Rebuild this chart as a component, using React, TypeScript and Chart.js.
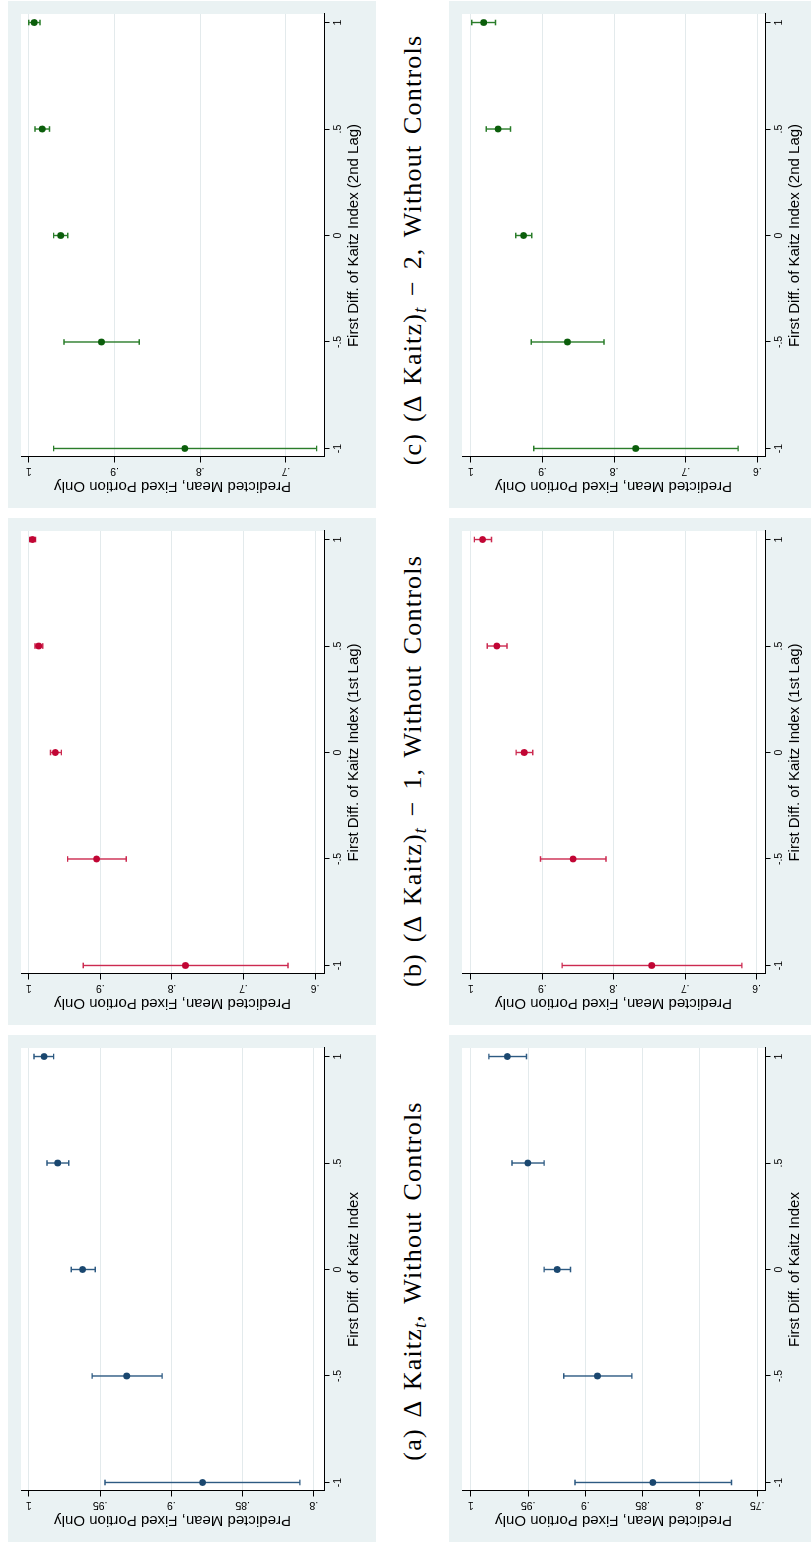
import React, { useEffect, useRef } from "react";
import { Chart, registerables } from "chart.js";

Chart.register(...registerables);

// ---------- data ----------
const kaitzSteps = [-1, -0.5, 0, 0.5, 1];
const kaitzTickLabels = ["-1", "-.5", "0", ".5", "1"];

// (c) second lag, left panel
const lag2LeftMean = [0.818, 0.9152, 0.9627, 0.9843, 0.9937];
const lag2LeftLow = [0.6642, 0.8712, 0.9546, 0.9759, 0.987];
const lag2LeftHigh = [0.971, 0.959, 0.971, 0.9928, 1.0];
// (c) second lag, right panel
const lag2RightMean = [0.7698, 0.8652, 0.9263, 0.962, 0.982];
const lag2RightLow = [0.6269, 0.8142, 0.915, 0.9446, 0.9655];
const lag2RightHigh = [0.9121, 0.9157, 0.9373, 0.9784, 0.9986];

// (b) first lag, left panel
const lag1LeftMean = [0.781, 0.9053, 0.963, 0.9862, 0.9948];
const lag1LeftLow = [0.6378, 0.8639, 0.9545, 0.9805, 0.9906];
const lag1LeftHigh = [0.924, 0.9457, 0.9696, 0.9913, 0.9986];
// (b) first lag, right panel
const lag1RightMean = [0.7468, 0.8568, 0.9252, 0.9636, 0.9835];
const lag1RightLow = [0.6207, 0.8108, 0.9133, 0.9494, 0.971];
const lag1RightHigh = [0.8722, 0.9025, 0.9365, 0.977, 0.995];

// (a) current, left panel
const curLeftMean = [0.8781, 0.9313, 0.9623, 0.9798, 0.9893];
const curLeftLow = [0.8098, 0.9065, 0.9534, 0.972, 0.9826];
const curLeftHigh = [0.9466, 0.9556, 0.9702, 0.9873, 0.9964];
// (a) current, right panel
const curRightMean = [0.8411, 0.8894, 0.9246, 0.9502, 0.9681];
const curRightLow = [0.7725, 0.8594, 0.913, 0.936, 0.9514];
const curRightHigh = [0.909, 0.9189, 0.936, 0.964, 0.9842];

// y tick values and labels
const ticksTenthsShort = [1, 0.9, 0.8, 0.7];
const ticksTenthsShortLabels = ["1", ".9", ".8", ".7"];
const ticksTenths = [1, 0.9, 0.8, 0.7, 0.6];
const ticksTenthsLabels = ["1", ".9", ".8", ".7", ".6"];
const ticksHalfTenths = [1, 0.95, 0.9, 0.85, 0.8];
const ticksHalfTenthsLabels = ["1", ".95", ".9", ".85", ".8"];
const ticksHalfTenthsLong = [1, 0.95, 0.9, 0.85, 0.8, 0.75];
const ticksHalfTenthsLongLabels = ["1", ".95", ".9", ".85", ".8", ".75"];

const yTitle = "Predicted Mean, Fixed Portion Only";

// ---------- styling ----------
const SANS = "'Liberation Sans', Arial, sans-serif";
const BG = "#eaf2f3";
const GREEN = { marker: "#0b5e0b", line: "#2a7d2a" };
const RED = { marker: "#c10534", line: "#cc2a50" };
const NAVY = { marker: "#1a476f", line: "#2d5a82" };

const CW = 507; // unrotated canvas width  (image height of panel)
const CH = 368; // unrotated canvas height (image width of panel)
const TICK_FONT = 10.5;
const TITLE_FONT = 15;

type PanelProps = {
  left: number;
  top: number;
  means: number[];
  lows: number[];
  highs: number[];
  yMin: number;
  yMax: number;
  yTicks: number[];
  yTickLabels: string[];
  xTitle: string;
  color: { marker: string; line: string };
};

function Panel(p: PanelProps) {
  const ref = useRef<HTMLCanvasElement>(null);
  useEffect(() => {
    const canvas = ref.current!;
    const mctx = document.createElement("canvas").getContext("2d")!;
    mctx.font = `${TICK_FONT}px ${SANS}`;
    const widest = Math.max(...p.yTickLabels.map((l) => mctx.measureText(l).width));
    const yPad = 51 - 5.5 - 37 - widest / 2;

    const bgPlugin = {
      id: "bgPlugin",
      beforeDraw(chart: any) {
        const { ctx, chartArea } = chart;
        ctx.save();
        ctx.fillStyle = BG;
        ctx.fillRect(0, 0, chart.width, chart.height);
        ctx.fillStyle = "#ffffff";
        ctx.fillRect(chartArea.left, chartArea.top, chartArea.right - chartArea.left, chartArea.bottom - chartArea.top);
        ctx.restore();
      },
    };
    const errorBars = {
      id: "errorBars",
      beforeDatasetsDraw(chart: any) {
        const { ctx } = chart;
        const xs = chart.scales.x;
        const ys = chart.scales.y;
        const cap = 2.8;
        ctx.save();
        ctx.strokeStyle = p.color.line;
        ctx.lineWidth = 1.4;
        kaitzSteps.forEach((d, i) => {
          const px = xs.getPixelForValue(d);
          const lo = ys.getPixelForValue(p.lows[i]);
          const hi = ys.getPixelForValue(p.highs[i]);
          ctx.beginPath();
          ctx.moveTo(px, lo);
          ctx.lineTo(px, hi);
          ctx.moveTo(px - cap, lo);
          ctx.lineTo(px + cap, lo);
          ctx.moveTo(px - cap, hi);
          ctx.lineTo(px + cap, hi);
          ctx.stroke();
        });
        ctx.restore();
      },
    };

    const chart = new Chart(canvas, {
      type: "scatter",
      data: {
        datasets: [
          {
            data: kaitzSteps.map((x, i) => ({ x, y: p.means[i] })),
            backgroundColor: p.color.marker,
            borderColor: p.color.marker,
            pointRadius: 3.4,
            pointBorderWidth: 0,
            pointHoverRadius: 3.4,
          },
        ],
      },
      options: {
        responsive: false,
        animation: false,
        events: [],
        layout: { padding: { left: 0, right: 13, top: 13, bottom: 0 } },
        plugins: { legend: { display: false }, tooltip: { enabled: false } },
        scales: {
          x: {
            type: "linear",
            position: "bottom",
            min: -1.04,
            max: 1.04,
            afterBuildTicks: (s: any) => {
              s.ticks = kaitzSteps.map((v) => ({ value: v }));
            },
            afterFit: (s: any) => {
              s.height = 52;
            },
            ticks: {
              autoSkip: false,
              minRotation: 0,
              maxRotation: 0,
              padding: 2.7,
              color: "#000",
              font: { family: SANS, size: TICK_FONT },
              callback: (v: any) => {
                const i = kaitzSteps.findIndex((t) => Math.abs(t - Number(v)) < 1e-9);
                return i >= 0 ? kaitzTickLabels[i] : "";
              },
            },
            grid: { display: true, drawOnChartArea: false, tickLength: 5.5, tickColor: "#000", tickWidth: 1 },
            border: { display: true, color: "#000", width: 1 },
            title: {
              display: true,
              text: p.xTitle,
              color: "#000",
              font: { family: SANS, size: TITLE_FONT },
              padding: { top: 0, bottom: 13 },
            },
          },
          y: {
            type: "linear",
            position: "left",
            min: p.yMin,
            max: p.yMax,
            afterBuildTicks: (s: any) => {
              s.ticks = p.yTicks.map((v) => ({ value: v }));
            },
            afterFit: (s: any) => {
              s.width = 51;
            },
            ticks: {
              autoSkip: false,
              minRotation: 90,
              maxRotation: 90,
              crossAlign: "center",
              padding: yPad,
              color: "#000",
              font: { family: SANS, size: TICK_FONT },
              callback: (v: any) => {
                const i = p.yTicks.findIndex((t) => Math.abs(t - Number(v)) < 1e-9);
                return i >= 0 ? p.yTickLabels[i] : "";
              },
            },
            grid: { color: "#e3eaec", lineWidth: 1, tickLength: 5.5, tickColor: "#000", tickWidth: 1 },
            border: { display: true, color: "#000", width: 1 },
            title: {
              display: true,
              text: yTitle,
              color: "#000",
              font: { family: SANS, size: TITLE_FONT },
              padding: { top: 13, bottom: 0 },
            },
          },
        },
      } as any,
      plugins: [bgPlugin, errorBars],
    });
    return () => chart.destroy();
  }, []);

  return (
    <div style={{ position: "absolute", left: p.left, top: p.top, width: CH, height: CW }}>
      <canvas
        ref={ref}
        width={CW}
        height={CH}
        style={{
          position: "absolute",
          left: 0,
          top: 0,
          width: CW,
          height: CH,
          transformOrigin: "0 0",
          transform: `translate(0px, ${CW}px) rotate(-90deg)`,
        }}
      />
    </div>
  );
}

function Caption({ cx, cy, children }: { cx: number; cy: number; children: React.ReactNode }) {
  return (
    <div
      style={{
        position: "absolute",
        left: cx,
        top: cy,
        transform: "translate(-50%, -50%) rotate(-90deg)",
        whiteSpace: "nowrap",
        fontFamily: "'Liberation Serif', 'Times New Roman', serif",
        fontSize: 26,
        letterSpacing: 1.2,
        wordSpacing: 3,
        lineHeight: "30px",
        color: "#000",
      }}
    >
      {children}
    </div>
  );
}

const subStyle: React.CSSProperties = { fontSize: "70%", fontStyle: "italic", verticalAlign: "-0.25em", lineHeight: 0 };

export default function App() {
  return (
    <div
      style={{
        position: "absolute",
        left: 0,
        top: 0,
        width: 811,
        height: 1545,
        overflow: "hidden",
        background: "#ffffff",
      }}
    >
      <Panel left={8} top={1} means={lag2LeftMean} lows={lag2LeftLow} highs={lag2LeftHigh}
        yMin={0.6556} yMax={1.0091} yTicks={ticksTenthsShort} yTickLabels={ticksTenthsShortLabels}
        xTitle="First Diff. of Kaitz Index (2nd Lag)" color={GREEN} />
      <Panel left={449} top={1} means={lag2RightMean} lows={lag2RightLow} highs={lag2RightHigh}
        yMin={0.5894} yMax={1.0123} yTicks={ticksTenths} yTickLabels={ticksTenthsLabels}
        xTitle="First Diff. of Kaitz Index (2nd Lag)" color={GREEN} />
      <Panel left={8} top={518} means={lag1LeftMean} lows={lag1LeftLow} highs={lag1LeftHigh}
        yMin={0.5875} yMax={1.0109} yTicks={ticksTenths} yTickLabels={ticksTenthsLabels}
        xTitle="First Diff. of Kaitz Index (1st Lag)" color={RED} />
      <Panel left={449} top={518} means={lag1RightMean} lows={lag1RightLow} highs={lag1RightHigh}
        yMin={0.5883} yMax={1.0123} yTicks={ticksTenths} yTickLabels={ticksTenthsLabels}
        xTitle="First Diff. of Kaitz Index (1st Lag)" color={RED} />
      <Panel left={8} top={1035} means={curLeftMean} lows={curLeftLow} highs={curLeftHigh}
        yMin={0.7929} yMax={1.0055} yTicks={ticksHalfTenths} yTickLabels={ticksHalfTenthsLabels}
        xTitle="First Diff. of Kaitz Index" color={NAVY} />
      <Panel left={449} top={1035} means={curRightMean} lows={curRightLow} highs={curRightHigh}
        yMin={0.7432} yMax={1.0077} yTicks={ticksHalfTenthsLong} yTickLabels={ticksHalfTenthsLongLabels}
        xTitle="First Diff. of Kaitz Index" color={NAVY} />

      <Caption cx={413} cy={250}>
        (c) (Δ Kaitz)<span style={subStyle}>t</span> − 2, Without Controls
      </Caption>
      <Caption cx={413} cy={771}>
        (b) (Δ Kaitz)<span style={subStyle}>t</span> − 1, Without Controls
      </Caption>
      <Caption cx={413} cy={1281}>
        (a) Δ Kaitz<span style={subStyle}>t</span>, Without Controls
      </Caption>
    </div>
  );
}
